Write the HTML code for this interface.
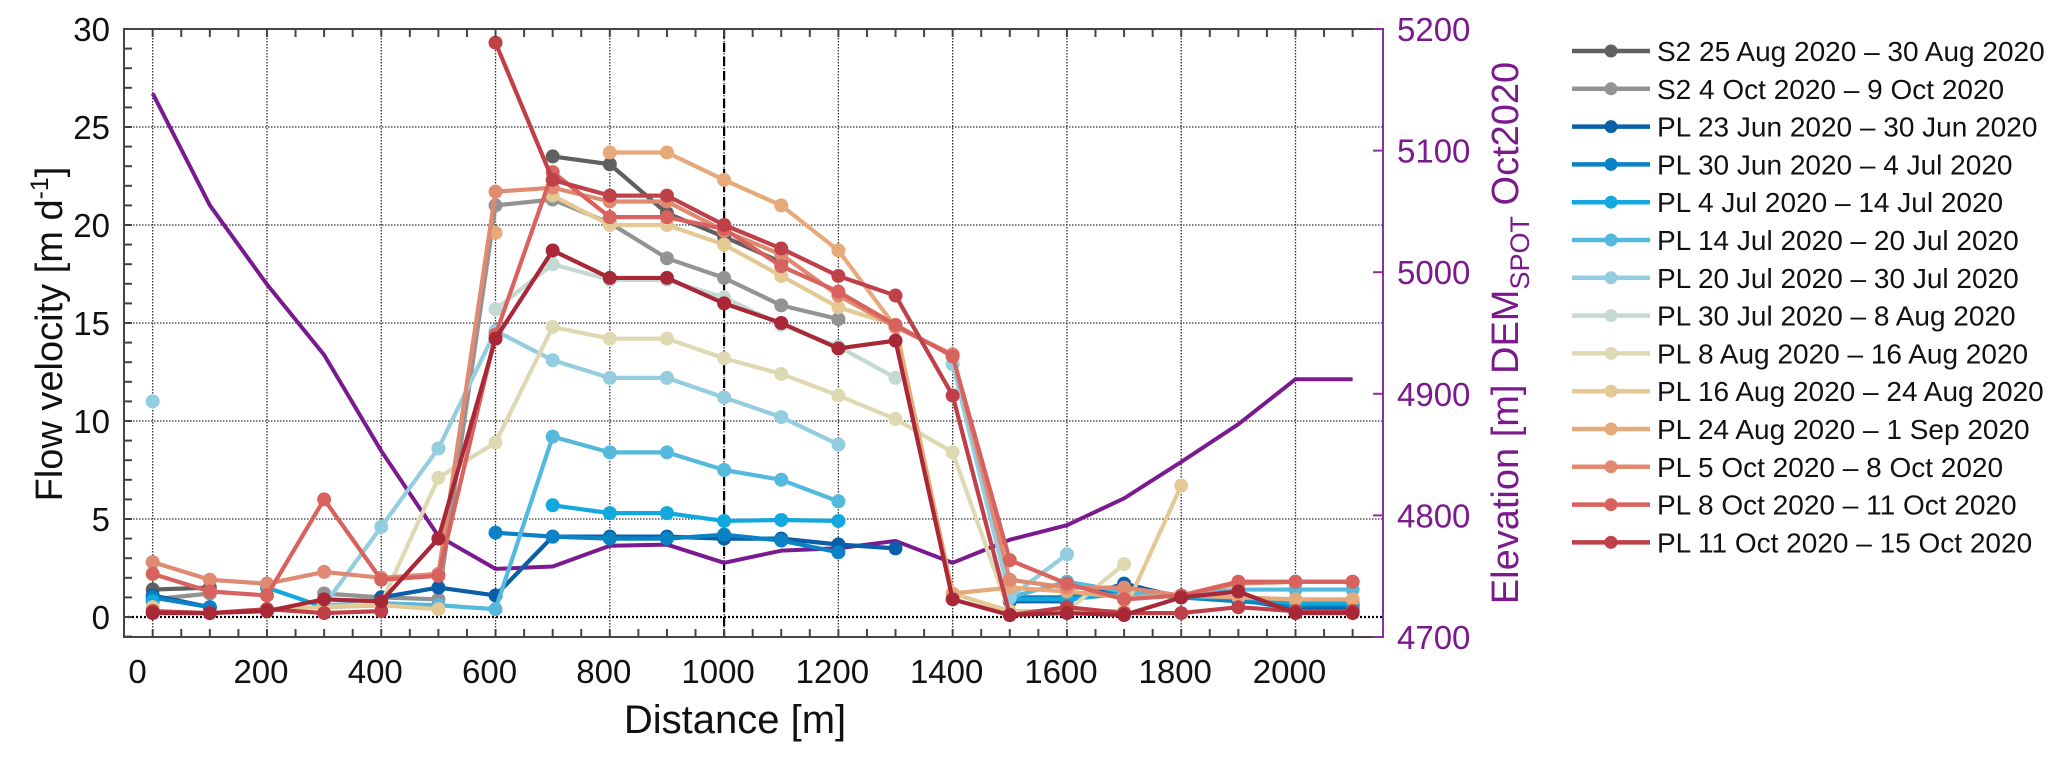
<!DOCTYPE html>
<html><head><meta charset="utf-8"><style>
html,body{margin:0;padding:0;background:#fff;width:2067px;height:757px;overflow:hidden}
svg text{font-family:"Liberation Sans",sans-serif}
</style></head><body>
<svg id="chart" width="2067" height="757" viewBox="0 0 2067 757" xmlns="http://www.w3.org/2000/svg">
<g id="grid"></g>
<g id="marks"></g>
<g id="axes"></g>
<g id="legend"></g>
</svg>
<script>
const distances=[0,100,200,300,400,500,600,700,800,900,1000,1100,1200,1300,1400,1500,1600,1700,1800,1900,2000,2100];
const xTicks=[0,200,400,600,800,1000,1200,1400,1600,1800,2000];
const yTicks=[0,5,10,15,20,25,30];
const elevTicks=[4700,4800,4900,5000,5100,5200];
const elevation=[5147,5055,4990,4932,4853,4783,4756,4758,4775,4776,4761,4771,4773,4779,4761,4780,4792,4814,4844,4875,4912,4912];
const seriesNames=["S2 25 Aug 2020 – 30 Aug 2020","S2 4 Oct 2020 – 9 Oct 2020","PL 23 Jun 2020 – 30 Jun 2020","PL 30 Jun 2020 – 4 Jul 2020","PL 4 Jul 2020 – 14 Jul 2020","PL 14 Jul 2020 – 20 Jul 2020","PL 20 Jul 2020 – 30 Jul 2020","PL 30 Jul 2020 – 8 Aug 2020","PL 8 Aug 2020 – 16 Aug 2020","PL 16 Aug 2020 – 24 Aug 2020","PL 24 Aug 2020 – 1 Sep 2020","PL 5 Oct 2020 – 8 Oct 2020","PL 8 Oct 2020 – 11 Oct 2020","PL 11 Oct 2020 – 15 Oct 2020"];
const seriesColors=["#606060","#939393","#0a5fa8","#0b82c4","#12a8de","#55b9de","#94cde0","#c4d9d3","#ddd9b2","#e5c995","#e6a97a","#e08a72","#d8625d","#c0404a"];
const s2Aug=[1.4,1.5,null,null,null,null,null,23.5,23.1,20.6,19.4,18.1,null,null,null,null,null,null,null,null,null,null];
const s2Oct=[0.9,1.2,null,1.2,1.0,0.9,21.0,21.3,20.1,18.3,17.3,15.9,15.2,null,null,null,null,null,null,null,null,null];
const pl23Jun=[1.1,0.5,null,null,1.0,1.5,1.1,4.1,4.1,4.1,4.0,4.0,3.7,3.5,null,0.8,0.8,1.7,1.0,0.9,0.4,0.4];
const pl30Jun=[1.0,0.5,null,null,null,null,4.3,4.1,4.0,4.0,4.2,3.9,3.3,null,null,1.0,1.0,1.3,1.0,0.8,0.6,0.6];
const pl4Jul=[0.8,null,1.5,0.5,0.6,null,null,5.7,5.3,5.3,4.9,4.95,4.9,null,null,0.9,0.9,1.2,1.0,1.0,0.7,0.7];
const pl14Jul=[null,null,null,0.6,0.7,0.6,0.4,9.2,8.4,8.4,7.5,7.0,5.9,null,null,1.0,1.8,1.3,1.1,1.4,1.4,1.4];
const pl20Jul=[11.0,null,null,0.6,4.6,8.6,14.6,13.1,12.2,12.2,11.2,10.2,8.8,null,12.9,1.0,3.2,null,null,null,null,null];
const pl30Jul=[null,null,null,null,null,null,15.7,18.0,17.2,17.2,16.3,14.9,13.8,12.2,null,null,null,null,null,null,0.3,0.3];
const pl8Aug=[0.5,null,null,0.5,0.7,7.1,8.9,14.8,14.2,14.2,13.2,12.4,11.3,10.1,8.4,0.2,0.3,2.7,null,null,null,null];
const pl16Aug=[0.5,null,0.4,0.5,0.6,0.4,null,21.5,20.0,20.0,19.0,17.4,15.8,14.9,1.2,0.3,0.3,0.3,6.7,null,null,null];
const pl24Aug=[null,null,null,null,null,null,19.6,null,23.7,23.7,22.3,21.0,18.7,14.8,1.2,1.5,1.3,1.0,1.1,1.0,0.9,0.9];
const pl5Oct=[2.8,1.9,1.7,2.3,2.0,2.2,21.7,21.9,21.2,21.2,19.7,18.5,16.4,14.8,13.4,1.9,1.5,1.5,1.1,1.7,1.8,1.8];
const pl8Oct=[2.2,1.3,1.1,6.0,1.9,2.1,14.4,22.7,20.4,20.4,19.8,17.9,16.6,14.9,13.3,2.9,1.7,0.9,1.1,1.8,1.8,1.8];
const pl11Oct=[0.3,0.2,0.4,0.2,0.3,null,29.3,22.3,21.5,21.5,20.0,18.8,17.4,16.4,11.3,0.1,0.5,0.2,0.2,0.5,0.3,0.3];
const plExtra=[0.2,0.2,0.3,0.9,0.8,4.0,14.2,18.7,17.3,17.3,16.0,15.0,13.7,14.1,0.9,0.1,0.2,0.1,1.0,1.3,0.2,0.2];
const seriesValues=[s2Aug,s2Oct,pl23Jun,pl30Jun,pl4Jul,pl14Jul,pl20Jul,pl30Jul,pl8Aug,pl16Aug,pl24Aug,pl5Oct,pl8Oct,pl11Oct];

const L=124,R=1383,T=29,B=637;
const X=d=>152.7+d*0.5714;
const Y=v=>617-v*19.6;
const E=e=>637-(e-4700)*1.216;
const NS="http://www.w3.org/2000/svg";
function mk(parent,tag,attrs){const el=document.createElementNS(NS,tag);for(const k in attrs)el.setAttribute(k,attrs[k]);parent.appendChild(el);return el;}
const grid=document.getElementById('grid'),marks=document.getElementById('marks'),axes=document.getElementById('axes'),legend=document.getElementById('legend');

xTicks.forEach(d=>{const l=mk(grid,'line',{x1:X(d),x2:X(d),y1:T,y2:B,stroke:'#333','stroke-width':1.3,'stroke-dasharray':'1.5 1.5'});

});
yTicks.forEach(v=>{if(v===0)return;const l=mk(grid,'line',{x1:L,x2:R,y1:Y(v),y2:Y(v),stroke:'#333','stroke-width':1.3,'stroke-dasharray':'1.5 1.5'});

});
const zl=mk(grid,'line',{x1:L,x2:R,y1:Y(0),y2:Y(0),stroke:'#000','stroke-width':2.2,'stroke-dasharray':'2 2'});


const dl=mk(grid,'line',{x1:X(1000),x2:X(1000),y1:T,y2:B,stroke:'#000','stroke-width':2.2,'stroke-dasharray':'9 5'});



const ep=mk(marks,'polyline',{points:distances.map((d,i)=>X(d)+','+E(elevation[i])).join(' '),fill:'none',stroke:'#7a1a90','stroke-width':4,'stroke-linejoin':'round'});



function drawSeries(vals,color,name){
  const g=mk(marks,'g',{});
  
  
  let seg=[];
  const flush=()=>{if(seg.length>1){const p=mk(g,'polyline',{points:seg.join(' '),fill:'none',stroke:color,'stroke-width':4.2,'stroke-linejoin':'round'});
    
    }seg=[];};
  vals.forEach((v,i)=>{if(v===null){flush();return;}seg.push(X(distances[i])+','+Y(v));});
  flush();
  vals.forEach((v,i)=>{if(v===null)return;const c=mk(g,'circle',{cx:X(distances[i]),cy:Y(v),r:7,fill:color});
    
    });
}
seriesValues.forEach((vals,i)=>drawSeries(vals,seriesColors[i],'series-'+(i+1)));
drawSeries(plExtra,'#a82838','series-extra');

const fr=mk(axes,'rect',{x:L,y:T,width:R-L,height:B-T,fill:'none',stroke:'#444','stroke-width':2});


const ra=mk(axes,'line',{x1:R,x2:R,y1:T,y2:B,stroke:'#8a30a0','stroke-width':2});


for(let d=0;d<=2100;d+=50){[[B,B-8],[T,T+8]].forEach(([a,b])=>{const t=mk(axes,'line',{x1:X(d),x2:X(d),y1:a,y2:b,stroke:'#444','stroke-width':2});
  
  });}
for(let v=-1;v<=30;v++){const t=mk(axes,'line',{x1:L,x2:L+8,y1:Y(v),y2:Y(v),stroke:'#444','stroke-width':2});
  
  }
elevTicks.forEach(e=>{const t=mk(axes,'line',{x1:R-10,x2:R,y1:E(e),y2:E(e),stroke:'#8a30a0','stroke-width':2});
  
  
  const tx=mk(axes,'text',{x:1397,y:E(e)+12,'font-size':33,fill:'#7a1a8c'});tx.textContent=e;
  
  });
xTicks.forEach(d=>{const cx=d===0?137.5:X(d)-6;const t=mk(axes,'text',{x:cx,y:683,'font-size':33,'text-anchor':'middle',fill:'#111'});t.textContent=d;
  
  });
yTicks.forEach(v=>{const t=mk(axes,'text',{x:110,y:Y(v)+12,'font-size':33,'text-anchor':'end',fill:'#111'});t.textContent=v;
  
  });
const xt=mk(axes,'text',{x:735,y:733,'font-size':40,'text-anchor':'middle',fill:'#111'});xt.textContent='Distance [m]';


const yt=mk(axes,'text',{x:0,y:0,'font-size':38,'text-anchor':'middle',fill:'#111',transform:'translate(62,334) rotate(-90)'});
yt.innerHTML='Flow velocity [m d<tspan dy="-14" font-size="25">-1</tspan><tspan dy="14">]</tspan>';


const rt=mk(axes,'text',{x:0,y:0,'font-size':38,'text-anchor':'middle',fill:'#7a1a8c',transform:'translate(1518,333) rotate(-90)'});
rt.innerHTML='Elevation [m] DEM<tspan dy="11" font-size="27">SPOT</tspan><tspan dy="-11"> Oct2020</tspan>';



seriesNames.forEach((n,i)=>{const y=51+i*37.8;
  const g=mk(legend,'g',{});
  
  
  mk(g,'line',{x1:1572,x2:1650,y1:y,y2:y,stroke:seriesColors[i],'stroke-width':4.5});
  mk(g,'circle',{cx:1611,cy:y,r:6.5,fill:seriesColors[i]});
  const t=mk(g,'text',{x:1657,y:y+10,'font-size':28,fill:'#111'});t.textContent=n;});
</script>
</body></html>
